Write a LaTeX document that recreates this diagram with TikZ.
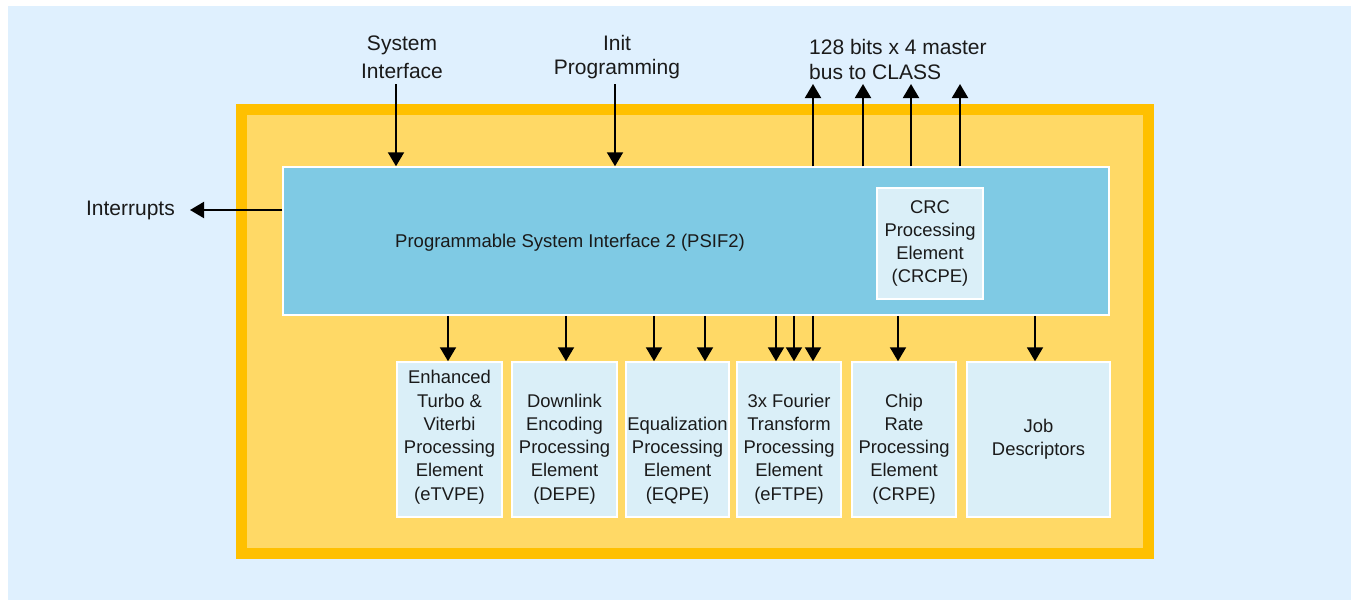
\documentclass[tikz,border=0pt]{standalone}
\usepackage{fontspec}
\setmainfont{Liberation Sans}
\usetikzlibrary{arrows.meta,positioning}

\definecolor{skyback}{HTML}{DFF0FE}
\definecolor{frameorange}{HTML}{FFC000}
\definecolor{framefill}{HTML}{FFD966}
\definecolor{psifblue}{HTML}{7FCAE4}
\definecolor{peblue}{HTML}{DAEFF8}
\definecolor{inktext}{HTML}{1A1A1A}

\tikzset{
  pebox/.style={draw=white,line width=1.5pt,fill=peblue,inner sep=0pt,align=center,text=inktext,font=\fontsize{18.4}{23}\selectfont},
  petext/.style={anchor=south,align=center,text=inktext,inner sep=0pt,font=\fontsize{18.4}{23.3}\selectfont},
  biglabel/.style={align=center,text=inktext,inner sep=0pt,font=\fontsize{21}{26}\selectfont},
  arr/.style={line width=2pt,-{Triangle[width=16pt,length=14pt]}}
}

\begin{document}
\begin{tikzpicture}[x=1pt,y=-1pt]
\useasboundingbox (0,0) rectangle (1351,600);
\fill[skyback] (8,6) rectangle (1351,600);

\node[draw=frameorange,line width=11pt,fill=framefill,minimum width=907,minimum height=444,inner sep=0pt] (frame) at (695,331.5){};

\node[pebox,fill=psifblue,minimum width=826,minimum height=148] (psif) at (696,241){};
\node[text=inktext,font=\fontsize{18.5}{23}\selectfont] (psiflabel) at (570,243){Programmable System Interface 2 (PSIF2)};
\node[pebox,minimum width=106,minimum height=111] (crcpe) at (930,243.5){CRC\\Processing\\Element\\(CRCPE)};

% processing elements
\node[pebox,minimum width=105,minimum height=155] (etvpe) at (449.5,439.5){};
\node[pebox,minimum width=105,minimum height=155] (depe) at (564.5,439.5){};
\node[pebox,minimum width=103,minimum height=155] (eqpe) at (677.5,439.5){};
\node[pebox,minimum width=104,minimum height=155] (eftpe) at (789,439.5){};
\node[pebox,minimum width=104,minimum height=155] (crpe) at (904,439.5){};
\node[pebox,minimum width=143,minimum height=155] (job) at (1038.5,439.5){Job\\Descriptors};

\node[petext] (etvpetext) at ([yshift=13.5pt]etvpe.south){Enhanced\\Turbo \&\\Viterbi\\Processing\\Element\\(eTVPE)};
\node[petext] (depetext) at ([yshift=13.5pt]depe.south){Downlink\\Encoding\\Processing\\Element\\(DEPE)};
\node[petext] (eqpetext) at ([yshift=13.5pt]eqpe.south){Equalization\\Processing\\Element\\(EQPE)};
\node[petext] (eftpetext) at ([yshift=13.5pt]eftpe.south){3x Fourier\\Transform\\Processing\\Element\\(eFTPE)};
\node[petext] (crpetext) at ([yshift=13.5pt]crpe.south){Chip\\Rate\\Processing\\Element\\(CRPE)};

% outside labels
\node[biglabel,font=\fontsize{21}{28}\selectfont] (sysif) at (402,57){System\\Interface};
\node[biglabel,font=\fontsize{21}{24}\selectfont] (initprog) at (617,57){Init\\Programming};
\node[biglabel,align=left,anchor=west,font=\fontsize{21}{25}\selectfont] (buslabel) at (809,59){128 bits x 4 master\\bus to CLASS};
\node[biglabel,anchor=east] (irq) at (175,210){Interrupts};

\coordinate (sysin) at (396,84);
\draw[arr] (sysin) -- (sysin |- psif.north);
\coordinate (initin) at (615,84);
\draw[arr] (initin) -- (initin |- psif.north);
\foreach \bx [count=\i] in {813,863,911,960}{
  \coordinate (bus\i) at (\bx,84);
  \draw[arr] (bus\i |- psif.north) -- (bus\i);
}
\coordinate (irqend) at ([xshift=15pt]irq.east);
\draw[arr] (psif.west |- irq) -- (irqend);

\foreach \pe/\dx [count=\i] in {etvpe/-1.5,depe/1.5,eqpe/-23.5,eqpe/27.5,eftpe/-13,eftpe/5,eftpe/24,crpe/-6,job/-3.5}{
  \coordinate (drop\i) at ([xshift=\dx]\pe.north);
  \draw[arr] (drop\i |- psif.south) -- (drop\i);
}
\end{tikzpicture}
\end{document}
